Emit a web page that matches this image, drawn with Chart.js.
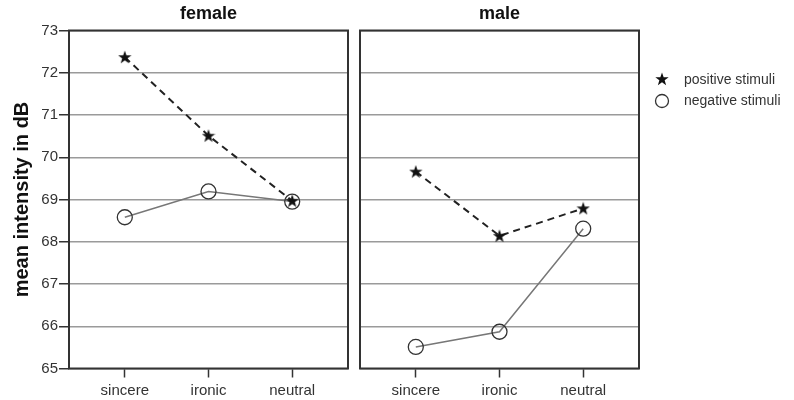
<!DOCTYPE html>
<html>
<head>
<meta charset="utf-8">
<script src="https://cdn.jsdelivr.net/npm/chart.js@4.4.1/dist/chart.umd.min.js"></script>
<style>
  html, body { margin:0; padding:0; background:#fff; }
  #wrap { position:relative; width:794px; height:400px; overflow:hidden; }
  #c1 { position:absolute; left:0; top:0; }
  #c2 { position:absolute; left:352px; top:0; }
</style>
</head>
<body>
<div id="wrap">
  <canvas id="c1" width="352" height="400"></canvas>
  <canvas id="c2" width="442" height="400"></canvas>
</div>
<script>
// ---- data ----
const categories = ['sincere', 'ironic', 'neutral'];
const panels = ['female', 'male'];
const seriesNames = ['positive stimuli', 'negative stimuli'];
const femalePositive = [72.37, 70.51, 68.97];
const femaleNegative = [68.58, 69.19, 68.95];
const malePositive = [69.66, 68.14, 68.79];
const maleNegative = [65.51, 65.87, 68.31];
const yTickValues = [65, 66, 67, 68, 69, 70, 71, 72, 73];
const yTitle = 'mean intensity in dB';

// ---- style ----
const FAMILY = "'Liberation Sans', Arial, sans-serif";
const DARK = '#333333';
const GRID = '#9a9a9a';

// filled five-point star marker
function makeStar(size) {
  const c = document.createElement('canvas');
  c.width = size; c.height = size;
  const g = c.getContext('2d');
  const cx = size / 2, cy = size / 2 + 0.5, R = size / 2, r = R * 0.4;
  g.beginPath();
  for (let i = 0; i < 10; i++) {
    const rad = i % 2 === 0 ? R : r;
    const a = -Math.PI / 2 + i * Math.PI / 5;
    const x = cx + rad * Math.cos(a), y = cy + rad * Math.sin(a);
    if (i === 0) g.moveTo(x, y); else g.lineTo(x, y);
  }
  g.closePath();
  g.fillStyle = '#111';
  g.fill();
  return c;
}
const starImg = makeStar(14);

const toPoints = vals => categories.map((c, i) => ({ x: i, y: vals[i] }));

function datasets(pos, neg) {
  return [
    {
      label: seriesNames[0], data: toPoints(pos), order: 1,
      borderColor: '#222', borderWidth: 2, borderDash: [7, 5],
      pointStyle: starImg, pointRadius: 7, pointHoverRadius: 7
    },
    {
      label: seriesNames[1], data: toPoints(neg), order: 2,
      borderColor: '#777', borderWidth: 1.5,
      pointStyle: 'circle', pointRadius: 7.5, pointHoverRadius: 7.5,
      pointBorderColor: DARK, pointBorderWidth: 1.3, pointBackgroundColor: 'rgba(255,255,255,0)'
    }
  ];
}

const framePlugin = {
  id: 'frame',
  beforeDatasetsDraw(chart) {
    const a = chart.chartArea, ctx = chart.ctx;
    ctx.save();
    ctx.strokeStyle = DARK;
    ctx.lineWidth = 2;
    ctx.strokeRect(a.left, a.top, a.right - a.left, a.bottom - a.top);
    ctx.restore();
  }
};

const legendPlugin = {
  id: 'customLegend',
  afterDraw(chart) {
    const ctx = chart.ctx;
    const x0 = chart.chartArea.right + 23;
    ctx.save();
    ctx.drawImage(starImg, x0 - 7, 79 - 7);
    ctx.beginPath();
    ctx.arc(x0, 101, 6.5, 0, Math.PI * 2);
    ctx.strokeStyle = DARK; ctx.lineWidth = 1.3; ctx.stroke();
    ctx.fillStyle = DARK;
    ctx.font = '14px ' + FAMILY;
    ctx.textBaseline = 'middle';
    ctx.fillText(seriesNames[0], x0 + 22, 80);
    ctx.fillText(seriesNames[1], x0 + 22, 101);
    ctx.restore();
  }
};

function makeOptions(title, isLeft, padRight) {
  return {
    responsive: false,
    animation: false,
    layout: { autoPadding: false, padding: { left: 0, right: padRight, top: 0, bottom: 0 } },
    plugins: {
      legend: { display: false },
      tooltip: { enabled: false },
      title: {
        display: true, text: title, fullSize: false, color: '#111',
        font: { family: FAMILY, size: 18, weight: 'bold' },
        padding: { top: 3.5, bottom: 5.4 }
      }
    },
    scales: {
      x: {
        type: 'linear', min: -2 / 3, max: 8 / 3,
        afterBuildTicks: s => { s.ticks = categories.map((c, i) => ({ value: i })); },
        ticks: {
          callback: v => categories[v], color: DARK, padding: 4,
          font: { family: FAMILY, size: 15 }, maxRotation: 0, autoSkip: false
        },
        grid: { drawOnChartArea: false, drawTicks: true, tickLength: 9, tickColor: DARK, tickWidth: 1.5 },
        border: { display: false },
        afterFit: s => { s.height = 31.5; s.paddingLeft = 0; s.paddingRight = 0; }
      },
      y: {
        min: yTickValues[0], max: yTickValues[yTickValues.length - 1],
        afterBuildTicks: s => { s.ticks = yTickValues.map(v => ({ value: v })); },
        ticks: {
          display: isLeft, color: DARK, padding: 1,
          font: { family: FAMILY, size: 15 }
        },
        grid: {
          color: GRID, lineWidth: 1.5,
          drawTicks: isLeft, tickLength: isLeft ? 10 : 0, tickColor: DARK, tickWidth: 1.5
        },
        border: { display: false },
        title: {
          display: isLeft, text: yTitle, color: '#111',
          font: { family: FAMILY, size: 20, weight: 'bold' },
          padding: { top: 10, bottom: 0 }
        },
        afterFit: s => { s.width = isLeft ? 69 : 8; s.paddingTop = 0; s.paddingBottom = 0; }
      }
    }
  };
}

new Chart(document.getElementById('c1'), {
  type: 'line',
  data: { datasets: datasets(femalePositive, femaleNegative) },
  options: makeOptions(panels[0], true, 4),
  plugins: [framePlugin]
});

new Chart(document.getElementById('c2'), {
  type: 'line',
  data: { datasets: datasets(malePositive, maleNegative) },
  options: makeOptions(panels[1], false, 155),
  plugins: [framePlugin, legendPlugin]
});
</script>
</body>
</html>
